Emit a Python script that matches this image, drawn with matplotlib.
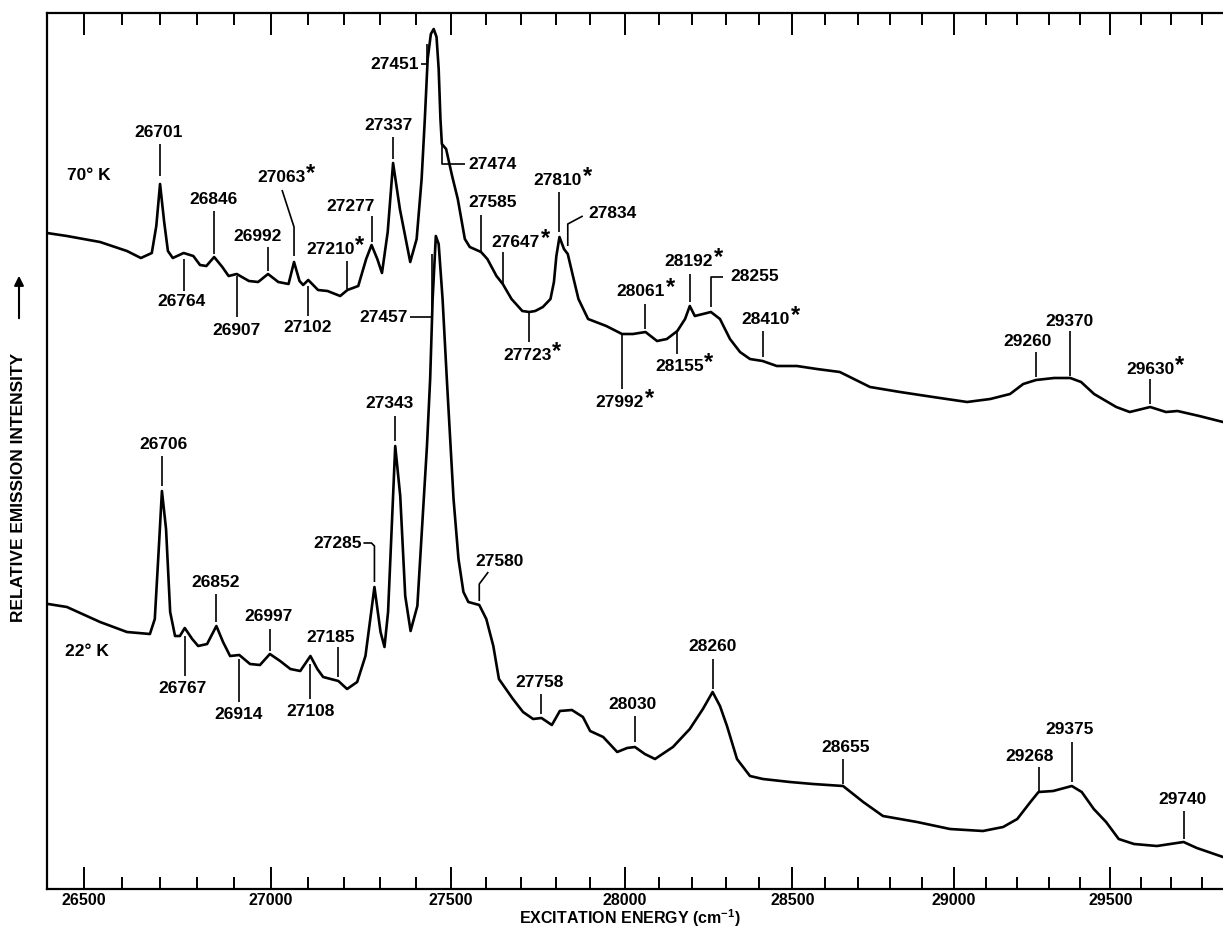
import numpy as np
import matplotlib
matplotlib.use('Agg')
import matplotlib.pyplot as plt

plt.rcParams['font.family'] = ['Liberation Sans', 'DejaVu Sans']
plt.rcParams['font.weight'] = 'bold'
plt.rcParams['mathtext.fontset'] = 'custom'
plt.rcParams['mathtext.rm'] = 'Liberation Sans:bold'
plt.rcParams['mathtext.it'] = 'Liberation Sans:bold:italic'

# emission spectrum at 70 K (wavenumber cm-1, relative intensity)
nu_70k = [26403, 26455, 26542, 26613, 26650, 26679, 26691, 26701, 26712, 26722,
          26735, 26764, 26790, 26808, 26825, 26846, 26868, 26885, 26907, 26940,
          26965, 26992, 27020, 27048, 27063, 27078, 27088, 27102, 27129, 27155,
          27190, 27210, 27240, 27262, 27277, 27293, 27306, 27322, 27337, 27356,
          27385, 27403, 27417, 27426, 27434, 27443, 27451, 27459, 27465, 27470,
          27474, 27486, 27503, 27519, 27539, 27553, 27585, 27603, 27629, 27647,
          27672, 27703, 27723, 27740, 27762, 27784, 27794, 27801, 27810, 27823,
          27834, 27849, 27865, 27893, 27946, 27992, 28024, 28061, 28095, 28124,
          28155, 28178, 28192, 28207, 28231, 28255, 28282, 28312, 28342, 28372,
          28410, 28453, 28514, 28575, 28645, 28676, 28738, 28831, 28934, 29041,
          29114, 29177, 29219, 29260, 29318, 29370, 29405, 29447, 29519, 29563,
          29630, 29682, 29720, 29792, 29871]
i_70k = [65.6, 65.3, 64.7, 63.8, 63.1, 63.6, 66.3, 70.5, 66.7, 63.8,
         63.1, 63.6, 63.3, 62.4, 62.3, 63.2, 62.2, 61.3, 61.5, 60.8,
         60.7, 61.5, 60.7, 60.5, 62.7, 60.8, 60.4, 60.9, 59.9, 59.8,
         59.3, 59.9, 60.3, 63.0, 64.4, 63.0, 61.6, 65.7, 72.6, 68.0,
         62.7, 65.0, 71.0, 77.0, 83.0, 85.5, 86.0, 85.2, 82.0, 77.0,
         74.5, 74.0, 71.3, 69.0, 65.0, 64.2, 63.7, 63.0, 61.3, 60.5,
         59.0, 57.8, 57.7, 57.8, 58.2, 59.0, 60.7, 63.3, 65.2, 64.0,
         63.5, 61.3, 59.0, 57.0, 56.3, 55.5, 55.5, 55.7, 54.8, 55.0,
         55.8, 57.0, 58.3, 57.3, 57.5, 57.7, 57.0, 55.0, 53.7, 53.0,
         52.8, 52.3, 52.3, 52.0, 51.7, 51.2, 50.2, 49.7, 49.2, 48.7,
         49.0, 49.5, 50.5, 50.9, 51.1, 51.1, 50.7, 49.5, 48.2, 47.7,
         48.2, 47.7, 47.8, 47.3, 46.7]

# emission spectrum at 22 K
nu_22k = [26406, 26455, 26542, 26613, 26674, 26687, 26698, 26706, 26717, 26728,
          26741, 26754, 26767, 26787, 26803, 26827, 26852, 26870, 26889, 26914,
          26943, 26970, 26997, 27025, 27053, 27080, 27108, 27127, 27143, 27185,
          27209, 27237, 27260, 27276, 27285, 27302, 27313, 27323, 27337, 27343,
          27357, 27371, 27386, 27405, 27432, 27441, 27448, 27457, 27465, 27476,
          27488, 27507, 27521, 27535, 27549, 27580, 27600, 27620, 27636, 27676,
          27705, 27734, 27758, 27788, 27811, 27846, 27878, 27899, 27937, 27978,
          28007, 28030, 28059, 28089, 28142, 28192, 28231, 28260, 28282, 28303,
          28333, 28372, 28411, 28493, 28563, 28655, 28686, 28717, 28778, 28884,
          28987, 29091, 29155, 29200, 29242, 29268, 29315, 29375, 29407, 29446,
          29486, 29527, 29577, 29652, 29740, 29784, 29871]
i_22k = [28.5, 28.2, 26.7, 25.7, 25.5, 27.0, 34.3, 39.8, 36.0, 27.7,
         25.3, 25.3, 26.1, 25.0, 24.3, 24.5, 26.3, 24.7, 23.3, 23.4,
         22.5, 22.4, 23.5, 22.8, 22.0, 21.8, 23.3, 22.0, 21.2, 20.8,
         20.0, 20.7, 23.3, 27.7, 30.2, 25.7, 24.2, 27.7, 39.3, 44.3,
         39.3, 29.3, 25.8, 28.3, 44.3, 51.0, 59.0, 65.3, 64.5, 59.0,
         51.0, 39.0, 33.0, 29.7, 28.7, 28.4, 27.0, 24.3, 21.0, 19.0,
         17.7, 17.0, 17.1, 16.4, 17.8, 17.9, 17.2, 15.8, 15.2, 13.7,
         14.1, 14.2, 13.5, 13.0, 14.2, 16.0, 18.0, 19.7, 18.3, 16.3,
         13.0, 11.3, 11.0, 10.7, 10.5, 10.3, 9.5, 8.7, 7.3, 6.7,
         6.0, 5.8, 6.2, 7.0, 8.7, 9.7, 9.8, 10.3, 9.7, 8.0,
         6.7, 5.0, 4.5, 4.3, 4.7, 4.1, 3.2]

# assigned band positions; starred ones carry an asterisk
peaks_70k = [26701, 26764, 26846, 26907, 26992, 27063, 27102, 27210, 27277, 27337,
             27451, 27474, 27585, 27647, 27723, 27810, 27834, 27992, 28061, 28155,
             28192, 28255, 28410, 29260, 29370, 29630]
starred_70k = [27063, 27210, 27647, 27723, 27810, 27992, 28061, 28155, 28192,
               28410, 29630]
peaks_22k = [26706, 26767, 26852, 26914, 26997, 27108, 27185, 27285, 27343, 27457,
             27580, 27758, 28030, 28260, 28655, 29268, 29375, 29740]

major_ticks = [26500, 27000, 27500, 28000, 28500, 29000, 29500]
minor_ticks = [v for v in range(26600, 29900, 100) if v % 500]

# leader path and label offset (pixels from the band point on the trace)
leaders_70k = {
    26701: ([(0, 8), (0, 40)], (-1, 52), 'center'),
    26764: ([(0, -6), (0, -38)], (-2, -48), 'center'),
    26846: ([(0, 3), (0, 46)], (-1, 58), 'center'),
    26907: ([(0, -2), (0, -43)], (0, -56), 'center'),
    26992: ([(0, 3), (0, 27)], (-10, 38), 'center'),
    27063: ([(0, 6), (0, 35), (-12, 72)], (-13, 85), 'center'),
    27102: ([(0, -6), (0, -36)], (-1, -47), 'center'),
    27210: ([(0, 1), (0, 29)], (-17, 41), 'center'),
    27277: ([(0, 3), (0, 29)], (-21, 39), 'center'),
    27337: ([(0, 4), (0, 26)], (-5, 38), 'center'),
    27451: ([(-7, -15), (-7, -35), (-13, -35)], (-15, -35), 'right'),
    27474: ([(0, 0), (0, -20), (23, -20)], (27, -20), 'left'),
    27585: ([(0, 1), (0, 37)], (12, 50), 'center'),
    27647: ([(0, 0), (0, 32)], (13, 42), 'center'),
    27723: ([(0, 0), (0, -30)], (-2, -43), 'center'),
    27810: ([(0, 5), (0, 45)], (-2, 57), 'center'),
    27834: ([(0, 8), (0, 30), (15, 38)], (21, 41), 'left'),
    27992: ([(0, 0), (0, -55)], (-2, -68), 'center'),
    28061: ([(0, 3), (0, 28)], (-5, 41), 'center'),
    28155: ([(0, 0), (0, -23)], (2, -35), 'center'),
    28192: ([(0, 4), (0, 32)], (-1, 45), 'center'),
    28255: ([(0, 5), (0, 35), (12, 35)], (19, 36), 'left'),
    28410: ([(0, 4), (0, 30)], (3, 42), 'center'),
    29260: ([(0, 3), (0, 28)], (-8, 39), 'center'),
    29370: ([(0, 2), (0, 47)], (-1, 57), 'center'),
    29630: ([(0, 3), (0, 28)], (0, 38), 'center'),
}
leaders_22k = {
    26706: ([(0, 5), (0, 35)], (2, 47), 'center'),
    26767: ([(0, -8), (0, -48)], (-2, -60), 'center'),
    26852: ([(0, 4), (0, 32)], (-1, 44), 'center'),
    26914: ([(0, -4), (0, -47)], (-1, -59), 'center'),
    26997: ([(0, 3), (0, 25)], (-1, 38), 'center'),
    27108: ([(0, -8), (0, -43)], (0, -55), 'center'),
    27185: ([(0, 4), (0, 34)], (-8, 44), 'center'),
    27285: ([(0, 5), (0, 41), (-3, 44), (-11, 44)], (-13, 44), 'right'),
    27343: ([(0, 5), (0, 30)], (-6, 43), 'center'),
    27457: ([(-4, -18), (-4, -81), (-26, -81)], (-28, -81), 'right'),
    27580: ([(0, 4), (0, 21), (9, 33)], (20, 44), 'center'),
    27758: ([(0, 4), (0, 24)], (-2, 36), 'center'),
    28030: ([(0, 5), (0, 31)], (-2, 43), 'center'),
    28260: ([(0, 3), (0, 33)], (0, 46), 'center'),
    28655: ([(0, 2), (0, 27)], (3, 39), 'center'),
    29268: ([(0, 1), (0, 25)], (-9, 36), 'center'),
    29375: ([(0, 4), (0, 44)], (-2, 57), 'center'),
    29740: ([(0, 3), (0, 31)], (-1, 43), 'center'),
}

FS = 12.5
AXIS_FS = 11.5


def to_wavelength(v):
    # the chart was recorded linear in wavelength
    v = np.asarray(v, dtype=float)
    with np.errstate(divide='ignore'):
        return -1e7 / v


def label_bands(ax, peaks, starred, leaders, nu, inten):
    to_data = ax.transData.inverted()
    for v in peaks:
        path, toff, ha = leaders[v]
        base = ax.transData.transform((v, np.interp(v, nu, inten)))
        pts = to_data.transform(base + np.array(path, dtype=float))
        ax.plot(pts[:, 0], pts[:, 1], color='k', lw=1.2, solid_capstyle='butt')
        tx, ty = to_data.transform(base + np.array(toff, dtype=float))
        ax.text(tx, ty, str(v), ha=ha, va='center', fontsize=FS)
        if v in starred:
            sx, sy = to_data.transform(base + np.array(toff) + np.array([25, 4]))
            ax.text(sx, sy, '*', ha='left', va='center', fontsize=17)


fig = plt.figure(figsize=(12.23, 9.28), dpi=100)
ax = fig.add_axes([47 / 1223, 38 / 928, 1176 / 1223, 876 / 928])
ax.set_xscale('function', functions=(to_wavelength, to_wavelength))
ax.set_xlim(26403, 29871)
ax.set_ylim(0, 87.6)

ax.plot(nu_70k, i_70k, color='k', lw=1.9)
ax.plot(nu_22k, i_22k, color='k', lw=1.9)

ax.set_xticks(major_ticks)
ax.set_xticks(minor_ticks, minor=True)
ax.set_xticklabels([str(t) for t in major_ticks], fontsize=AXIS_FS)
ax.tick_params(axis='x', which='both', direction='in', top=True, bottom=True,
               width=1.4, pad=2.5)
ax.tick_params(axis='x', which='major', length=16)
ax.tick_params(axis='x', which='minor', length=8.5)
ax.tick_params(axis='y', left=False, labelleft=False)
ax.spines['right'].set_visible(False)
for s in ['left', 'top', 'bottom']:
    ax.spines[s].set_linewidth(1.6)

label_bands(ax, peaks_70k, starred_70k, leaders_70k, nu_70k, i_70k)
label_bands(ax, peaks_22k, [], leaders_22k, nu_22k, i_22k)

ax.text(26455, 71.4, '70° K', ha='left', va='center', fontsize=FS)
ax.text(26450, 23.8, '22° K', ha='left', va='center', fontsize=FS)

fig.text(630 / 1223, 1 - 918 / 928, 'EXCITATION ENERGY (cm$^{-1}$)',
         ha='center', va='center', fontsize=AXIS_FS)
fig.text(19 / 1223, 1 - 487 / 928, 'RELATIVE EMISSION INTENSITY',
         rotation=90, ha='center', va='center', fontsize=FS)
fig.add_artist(matplotlib.patches.FancyArrowPatch(
    (19 / 1223, 1 - 322 / 928), (19 / 1223, 1 - 274 / 928),
    transform=fig.transFigure, arrowstyle='-|>', mutation_scale=14,
    color='k', lw=1.5))

fig.savefig('out.png', dpi=100)
